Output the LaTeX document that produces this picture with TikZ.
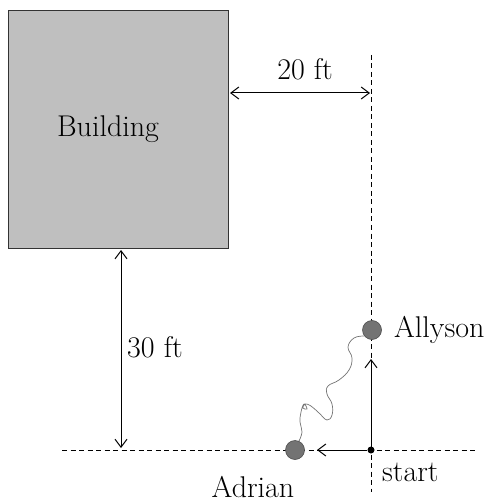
\documentclass[tikz,border=0pt]{standalone}
\usetikzlibrary{arrows.meta}
\begin{document}
\begin{tikzpicture}[x=1pt,y=-1pt,
  lbl/.style={font=\fontsize{30}{36}\selectfont, inner sep=0pt},
  dim/.style={line width=1pt, {Straight Barb[length=8pt,width=12pt]}-{Straight Barb[length=8pt,width=12pt]}},
  mov/.style={line width=1pt, -{Straight Barb[length=8pt,width=12pt]}},
  guide/.style={line width=0.9pt, dash pattern=on 5pt off 3.5pt},
  person/.style={circle, fill=black!55, draw=black!70, line width=0.6pt, minimum size=19pt, inner sep=0pt},
  wiggle/.style={draw=black!55, line width=0.7pt}]
\useasboundingbox (0,0) rectangle (497,502);
% building
\node[draw=black!80, fill=black!25, line width=1pt, minimum width=220pt, minimum height=237pt, inner sep=0pt] (building) at (118,129.5) {};
\node[lbl, anchor=base] (blabel) at (108,137) {Building};
% guide lines
\coordinate (vtop) at (371,55);
\coordinate (vbot) at (371,492);
\coordinate (hl) at (62,450);
\coordinate (hr) at (477,450);
\draw[guide] (vtop) -- (vbot);
\draw[guide] (hl) -- (hr);
% 20 ft
\coordinate (d20a) at (230,93);
\coordinate (d20b) at (370,93);
\draw[dim] (d20a) -- (d20b);
\node[lbl, anchor=base] (l20) at (305,80) {20 ft};
% 30 ft
\coordinate (d30a) at (121,250);
\coordinate (d30b) at (121,448);
\draw[dim] (d30a) -- (d30b);
\node[lbl, anchor=base west] (l30) at (127,357) {30 ft};
% start and people
\node[circle, fill=black, inner sep=0pt, minimum size=7pt] (start) at (371,450) {};
\node[person] (allyson) at (372,330) {};
\node[person] (adrian) at (295,450) {};
\coordinate (upend) at (371,359);
\coordinate (leftend) at (317,450);
\draw[mov] (start) -- (upend);
\draw[mov] (start) -- (leftend);
% wiggly path
\draw[wiggle] plot[smooth, tension=0.7] coordinates {(364,336) (354,338) (348,347) (352,358) (349,370) (339,380) (328,386) (327,394) (332,404) (332,415) (327,420) (319,413) (311,406) (305,404) (303,408) (307,409) (304,404) (301,412) (300,422) (302,432) (299,441)};
% labels
\node[lbl, anchor=base west] (lallyson) at (394,337) {Allyson};
\node[lbl, anchor=base west] (lstart) at (382,481) {start};
\node[lbl, anchor=base] (ladrian) at (253,497) {Adrian};
\end{tikzpicture}
\end{document}
